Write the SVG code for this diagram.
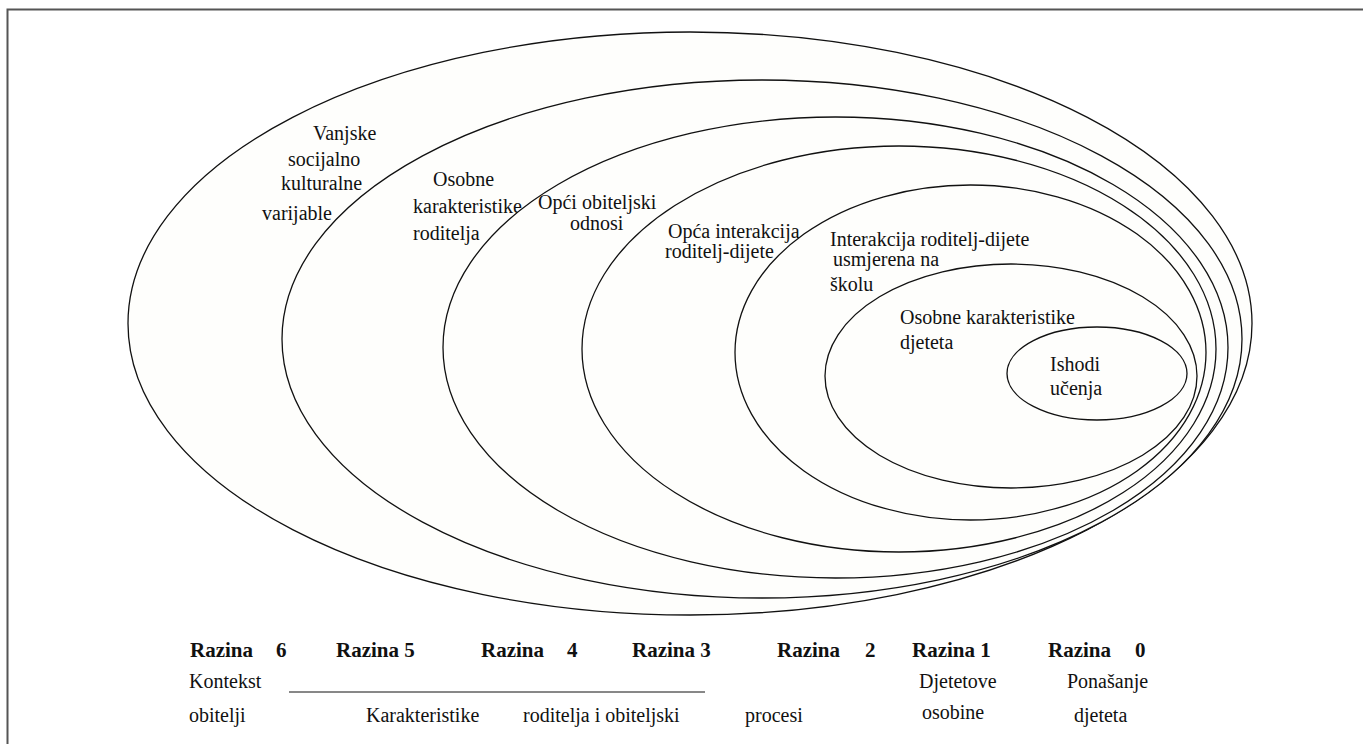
<svg xmlns="http://www.w3.org/2000/svg" width="1363" height="744" viewBox="0 0 1363 744">
<style>
.e{fill:#fefefc;stroke:#111;stroke-width:1.3}
.t{font-family:"Liberation Serif","Times New Roman",serif;font-size:20px;fill:#111}
.b{font-family:"Liberation Serif","Times New Roman",serif;font-size:21px;font-weight:bold;fill:#111}
</style>
<rect width="1363" height="744" fill="#ffffff"/>
<path d="M7.5 744 V9.5 H1363" fill="none" stroke="#555" stroke-width="2"/>
<g id="razina6"><ellipse class="e" cx="690" cy="323.5" rx="562" ry="291.5"/>
<text class="t" x="313" y="140">Vanjske</text><text class="t" x="288" y="166">socijalno</text><text class="t" x="281" y="190">kulturalne</text><text class="t" x="262" y="220">varijable</text></g>
<g id="razina5"><ellipse class="e" cx="762" cy="339" rx="480" ry="259"/>
<text class="t" x="433" y="186">Osobne</text><text class="t" x="413" y="213">karakteristike</text><text class="t" x="413" y="240">roditelja</text></g>
<g id="razina4"><ellipse class="e" cx="835.5" cy="347.5" rx="392.5" ry="230.5"/>
<text class="t" x="538" y="209">Opći obiteljski</text><text class="t" x="570" y="230">odnosi</text></g>
<g id="razina3"><ellipse class="e" cx="899" cy="349" rx="317" ry="203"/>
<text class="t" x="668" y="238">Opća interakcija</text><text class="t" x="665" y="258">roditelj-dijete</text></g>
<g id="razina2"><ellipse class="e" cx="970.5" cy="352.5" rx="235.5" ry="167.5"/>
<text class="t" x="830" y="246">Interakcija roditelj-dijete</text><text class="t" x="833" y="266">usmjerena na</text><text class="t" x="830" y="291">školu</text></g>
<g id="razina1"><ellipse class="e" cx="1011" cy="376" rx="186" ry="112"/>
<text class="t" x="900" y="324">Osobne karakteristike</text><text class="t" x="900" y="349">djeteta</text></g>
<g id="razina0"><ellipse class="e" cx="1097" cy="373.5" rx="90" ry="46.5"/>
<text class="t" x="1050" y="371">Ishodi</text><text class="t" x="1050" y="395">učenja</text></g>
<g id="legend">
<text class="b" x="190" y="657">Razina <tspan x="276">6</tspan></text>
<text class="b" x="336" y="657">Razina 5</text>
<text class="b" x="481" y="657">Razina <tspan x="567">4</tspan></text>
<text class="b" x="632" y="657">Razina 3</text>
<text class="b" x="777" y="657">Razina <tspan x="865">2</tspan></text>
<text class="b" x="912" y="657">Razina 1</text>
<text class="b" x="1048" y="657">Razina <tspan x="1135">0</tspan></text>
<text class="t" x="189" y="688">Kontekst</text>
<line x1="289" y1="692" x2="705" y2="692" stroke="#111" stroke-width="1"/>
<text class="t" x="919" y="688">Djetetove</text>
<text class="t" x="1067" y="688">Ponašanje</text>
<text class="t" x="189" y="722">obitelji</text>
<text class="t" x="366" y="722">Karakteristike</text>
<text class="t" x="523" y="722">roditelja i obiteljski</text>
<text class="t" x="745" y="722">procesi</text>
<text class="t" x="922" y="719">osobine</text>
<text class="t" x="1074" y="722">djeteta</text>
</g>
</svg>
